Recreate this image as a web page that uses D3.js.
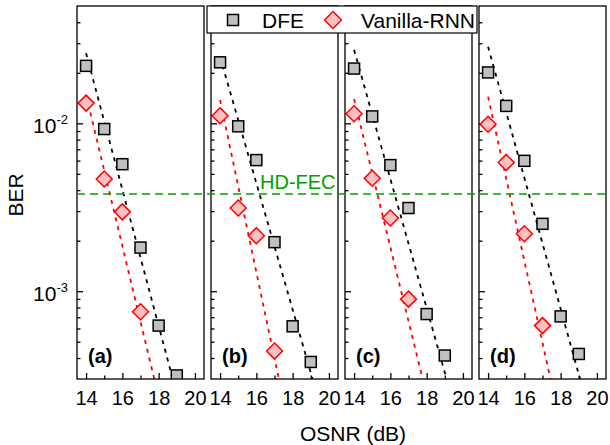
<!DOCTYPE html>
<html>
<head>
<meta charset="utf-8">
<script src="https://cdn.jsdelivr.net/npm/d3@7"></script>
<style>
  body { margin: 0; background: #fff; }
  text { font-family: "Liberation Sans", Arial, sans-serif; }
</style>
</head>
<body>
<div id="chart"></div>
<script>
// BER vs OSNR, four panels, DFE vs Vanilla-RNN
var osnrDfe = [14, 15, 16, 17, 18, 19];
var osnrRnn = [14, 15, 16, 17];
var panelNames = ["(a)", "(b)", "(c)", "(d)"];

var dfeA = [0.0220, 0.00925, 0.00571, 0.00182, 6.24e-4, 3.15e-4];
var dfeB = [0.0231, 0.0096, 0.00604, 0.00196, 6.18e-4, 3.79e-4];
var dfeC = [0.0212, 0.0110, 0.00564, 0.00313, 7.31e-4, 4.14e-4];
var dfeD = [0.0201, 0.0127, 0.00598, 0.00252, 7.08e-4, 4.23e-4];

var rnnA = [0.0132, 0.00466, 0.00297, 7.55e-4];
var rnnB = [0.0111, 0.00313, 0.00214, 4.40e-4];
var rnnC = [0.0114, 0.00471, 0.00273, 8.97e-4];
var rnnD = [0.00987, 0.00585, 0.00220, 6.24e-4];

// fitted lines: [start, end] as [OSNR, BER]
var dfeFit = [[[14, 0.0262], [18.78, 3e-4]], [[14, 0.0249], [19.1, 3e-4]],
              [[14, 0.0274], [19.1, 3e-4]], [[14, 0.0286], [19.07, 3e-4]]];
var rnnFit = [[[14, 0.01475], [17.76, 3e-4]], [[14, 0.01377], [17.24, 3e-4]],
              [[14, 0.01397], [17.78, 3e-4]], [[14, 0.01442], [17.44, 3e-4]]];

var hdFec = 3.8e-3;
var xTicks = [14, 16, 18, 20];
var xMinor = [15, 17, 19];
var yTicks = [1e-3, 1e-2];
var yTickLabels = ["-3", "-2"];
var yMinor = [4e-4, 5e-4, 6e-4, 7e-4, 8e-4, 9e-4,
              2e-3, 3e-3, 4e-3, 5e-3, 6e-3, 7e-3, 8e-3, 9e-3,
              2e-2, 3e-2, 4e-2];

var dfeData = [dfeA, dfeB, dfeC, dfeD];
var rnnData = [rnnA, rnnB, rnnC, rnnD];

var svgWidth = 610;
var svgHeight = 445;
var margin = { top: 6, left: 77 };
var panelW = 127, panelH = 373, panelGap = 7;

var svg = d3.select("#chart").append("svg")
  .attr("width", svgWidth)
  .attr("height", svgHeight);

var x = d3.scaleLinear().domain([13.5, 20.5]).range([0, panelW]);
var y = d3.scaleLog().domain([3e-4, 5e-2]).range([panelH, 0]);

var grayFill = "#c0c0c0";
var pinkFill = "#ffc0c4";
var red = "#ff0000";
var green = "#00a000";

function diamondPath(d) {
  var h = d / 2;
  return "M0," + (-h) + "L" + h + ",0L0," + h + "L" + (-h) + ",0Z";
}

panelNames.forEach(function(name, i) {
  var px = margin.left + i * (panelW + panelGap);
  var g = svg.append("g").attr("transform", `translate(${px}, ${margin.top})`);

  g.append("clipPath").attr("id", "clip" + i)
    .append("rect").attr("width", panelW).attr("height", panelH);

  // x ticks (inward)
  g.append("g").attr("transform", `translate(0, ${panelH})`)
    .call(d3.axisBottom(x).tickValues(xTicks).tickSize(-6).tickPadding(12).tickFormat(d3.format("d")))
    .call(a => a.select(".domain").remove())
    .call(a => a.selectAll("text").attr("font-size", 20).attr("fill", "#000")
      .attr("font-family", "Liberation Sans, Arial, sans-serif"));
  g.append("g").attr("transform", `translate(0, ${panelH})`)
    .call(d3.axisBottom(x).tickValues(xMinor).tickSize(-3.5).tickFormat(""))
    .call(a => a.select(".domain").remove());

  // y ticks (inward)
  g.append("g")
    .call(d3.axisLeft(y).tickValues(yTicks).tickSize(-6).tickFormat(""))
    .call(a => a.select(".domain").remove());
  g.append("g")
    .call(d3.axisLeft(y).tickValues(yMinor).tickSize(-3.5).tickFormat(""))
    .call(a => a.select(".domain").remove());
  g.selectAll(".tick line").attr("stroke", "#000").attr("stroke-width", 1.3);

  var plot = g.append("g").attr("clip-path", `url(#clip${i})`);

  // fit lines
  [[dfeFit[i], "#000"], [rnnFit[i], red]].forEach(function(f) {
    plot.append("line")
      .attr("x1", x(f[0][0][0])).attr("y1", y(f[0][0][1]))
      .attr("x2", x(f[0][1][0])).attr("y2", y(f[0][1][1]))
      .attr("stroke", f[1])
      .attr("stroke-width", 1.8)
      .attr("stroke-dasharray", "4,5");
  });

  // DFE squares
  plot.selectAll("rect.dfe")
    .data(osnrDfe.map((o, k) => [o, dfeData[i][k]]))
    .enter().append("rect")
    .attr("class", "dfe")
    .attr("x", d => x(d[0]) - 5.5)
    .attr("y", d => y(d[1]) - 5.5)
    .attr("width", 11).attr("height", 11)
    .attr("fill", grayFill)
    .attr("stroke", "#000")
    .attr("stroke-width", 1.5);

  // Vanilla-RNN diamonds
  plot.selectAll("path.rnn")
    .data(osnrRnn.map((o, k) => [o, rnnData[i][k]]))
    .enter().append("path")
    .attr("class", "rnn")
    .attr("d", diamondPath(16))
    .attr("transform", d => `translate(${x(d[0])}, ${y(d[1])})`)
    .attr("fill", pinkFill)
    .attr("stroke", red)
    .attr("stroke-width", 1.5);

  // frame
  g.append("rect")
    .attr("width", panelW).attr("height", panelH)
    .attr("fill", "none")
    .attr("stroke", "#000")
    .attr("stroke-width", 1.3);

  g.append("text")
    .attr("x", 11).attr("y", panelH - 16)
    .attr("font-size", 20)
    .attr("font-weight", "bold")
    .text(name);

  // y tick labels only on first panel
  if (i === 0) {
    yTicks.forEach(function(t, k) {
      var lbl = g.append("text")
        .attr("x", -9).attr("y", y(t) + 9.5)
        .attr("text-anchor", "end")
        .attr("font-size", 21)
        .text("10");
      lbl.append("tspan")
        .attr("dy", -8.5)
        .attr("font-size", 13)
        .text(yTickLabels[k]);
    });
  }
});

// HD-FEC threshold
var xEnd = margin.left + 4 * panelW + 3 * panelGap;
svg.append("line")
  .attr("x1", margin.left).attr("x2", xEnd)
  .attr("y1", margin.top + y(hdFec)).attr("y2", margin.top + y(hdFec))
  .attr("stroke", green)
  .attr("stroke-width", 1.5)
  .attr("stroke-dasharray", "8,5");

svg.append("text")
  .attr("x", 260).attr("y", margin.top + y(hdFec) - 5)
  .attr("font-size", 20)
  .attr("fill", green)
  .text("HD-FEC");

// axis titles
svg.append("text")
  .attr("transform", `translate(23, 195) rotate(-90)`)
  .attr("text-anchor", "middle")
  .attr("font-size", 21)
  .text("BER");

svg.append("text")
  .attr("x", 353).attr("y", 441)
  .attr("text-anchor", "middle")
  .attr("font-size", 21)
  .text("OSNR (dB)");

// legend
var legend = svg.append("g");
legend.append("rect")
  .attr("x", 207).attr("y", 6)
  .attr("width", 270).attr("height", 27)
  .attr("fill", "#fff")
  .attr("stroke", "#000")
  .attr("stroke-width", 1.2);
legend.append("rect")
  .attr("x", 233 - 5.5).attr("y", 20 - 5.5)
  .attr("width", 11).attr("height", 11)
  .attr("fill", grayFill)
  .attr("stroke", "#000")
  .attr("stroke-width", 1.5);
legend.append("text")
  .attr("x", 262).attr("y", 27.5)
  .attr("font-size", 21)
  .text("DFE");
legend.append("path")
  .attr("d", diamondPath(17))
  .attr("transform", "translate(333, 20)")
  .attr("fill", pinkFill)
  .attr("stroke", red)
  .attr("stroke-width", 1.5);
legend.append("text")
  .attr("x", 361).attr("y", 27.5)
  .attr("font-size", 21)
  .text("Vanilla-RNN");
</script>
</body>
</html>
